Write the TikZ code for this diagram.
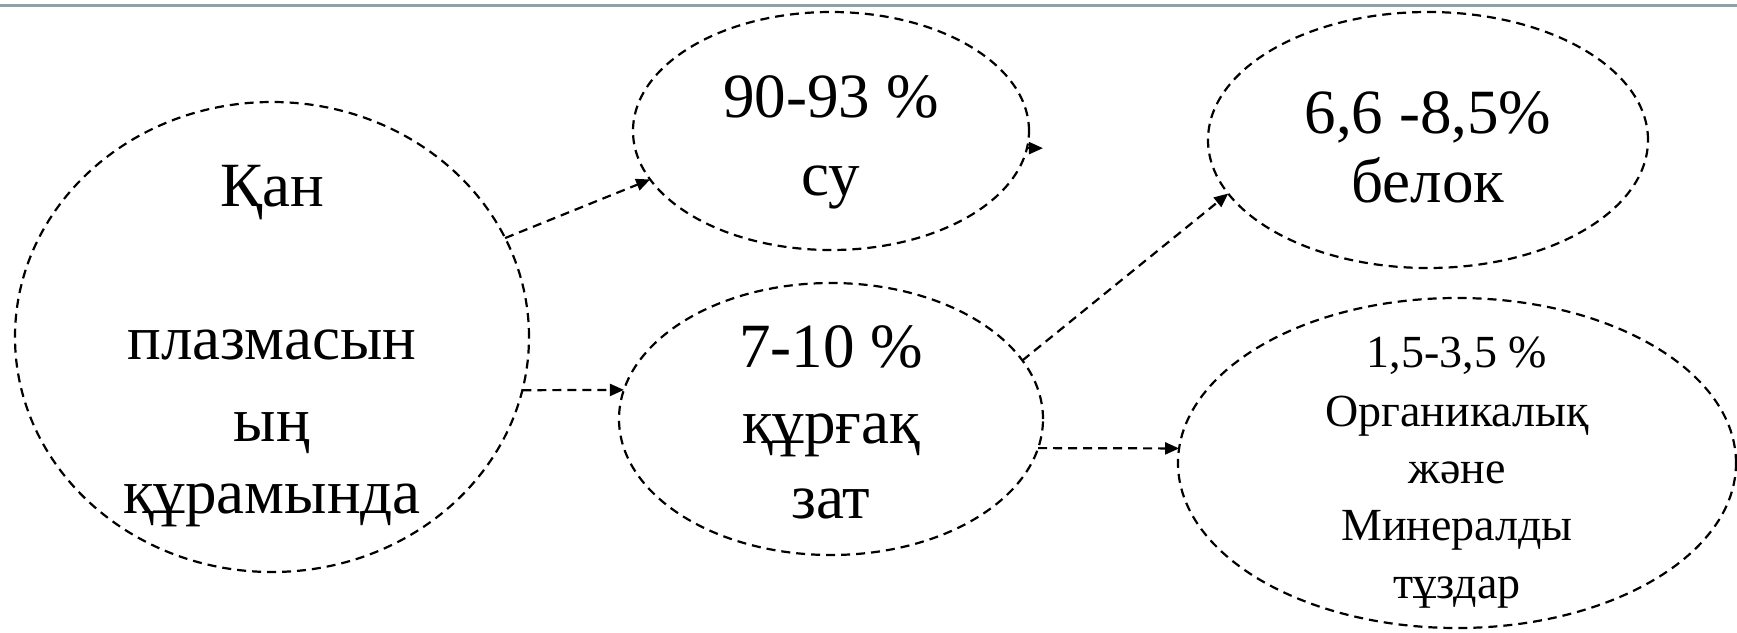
\documentclass[tikz,border=0pt]{standalone}
\usepackage{fontspec}
\setmainfont{Liberation Serif}
\usetikzlibrary{shapes.geometric,arrows.meta}
\definecolor{topline}{RGB}{140,163,166}
\tikzset{
  bubble/.style={ellipse, draw=black, line width=2.2pt, dash pattern=on 9pt off 6pt, inner sep=0pt, outer sep=0pt},
  link/.style={draw=black, line width=2.2pt, dash pattern=on 9pt off 6pt, -{Triangle[length=14pt,width=12pt]}},
  bigtxt/.style={font=\fontsize{63}{76}\selectfont, anchor=base, inner sep=0pt},
  smalltxt/.style={font=\fontsize{46}{58}\selectfont, anchor=base, inner sep=0pt}
}
\begin{document}
\begin{tikzpicture}[x=1pt,y=-1pt]
\useasboundingbox (0,0) rectangle (1737,632);
\fill[topline] (0,4) rectangle (1737,7);
% ellipses
\node[bubble, minimum width=514pt, minimum height=470pt] (big) at (272,337) {};
\node[bubble, minimum width=396pt, minimum height=238pt] (su) at (831,131) {};
\node[bubble, minimum width=424pt, minimum height=272pt] (dry) at (831,419) {};
\node[bubble, minimum width=440pt, minimum height=256pt] (prot) at (1428,140) {};
\node[bubble, minimum width=558pt, minimum height=330pt] (salt) at (1457,463) {};
% texts
\node[bigtxt] (b1) at (272,206) {Қан};
\node[bigtxt] (b2) at (272,359) {плазмасын};
\node[bigtxt] (b3) at (272,441) {ың};
\node[bigtxt] (b4) at (272,513) {құрамында};
\node[bigtxt] (s1) at (831,117) {90-93 \%};
\node[bigtxt] (s2) at (831,195) {су};
\node[bigtxt] (d1) at (831,367) {7-10 \%};
\node[bigtxt] (d2) at (831,443) {құрғақ};
\node[bigtxt] (d3) at (831,518) {зат};
\node[bigtxt] (p1) at (1428,133) {6,6 -8,5\%};
\node[bigtxt] (p2) at (1428,202) {белок};
\node[smalltxt] (m1) at (1457,367) {1,5-3,5 \%};
\node[smalltxt] (m2) at (1457,426) {Органикалық};
\node[smalltxt] (m3) at (1457,483) {және};
\node[smalltxt] (m4) at (1457,540) {Минералды};
\node[smalltxt] (m5) at (1457,598) {тұздар};
% connectors
\draw[link] (big.23) -- (su.195);
\draw[link] (big.-12) -- (dry.172);
\draw[link] (su.-5) -- ++(16,0);
\draw[link] (dry.17) -- (prot.195);
\draw[link] (dry.-8) -- (salt.177);
\end{tikzpicture}
\end{document}
